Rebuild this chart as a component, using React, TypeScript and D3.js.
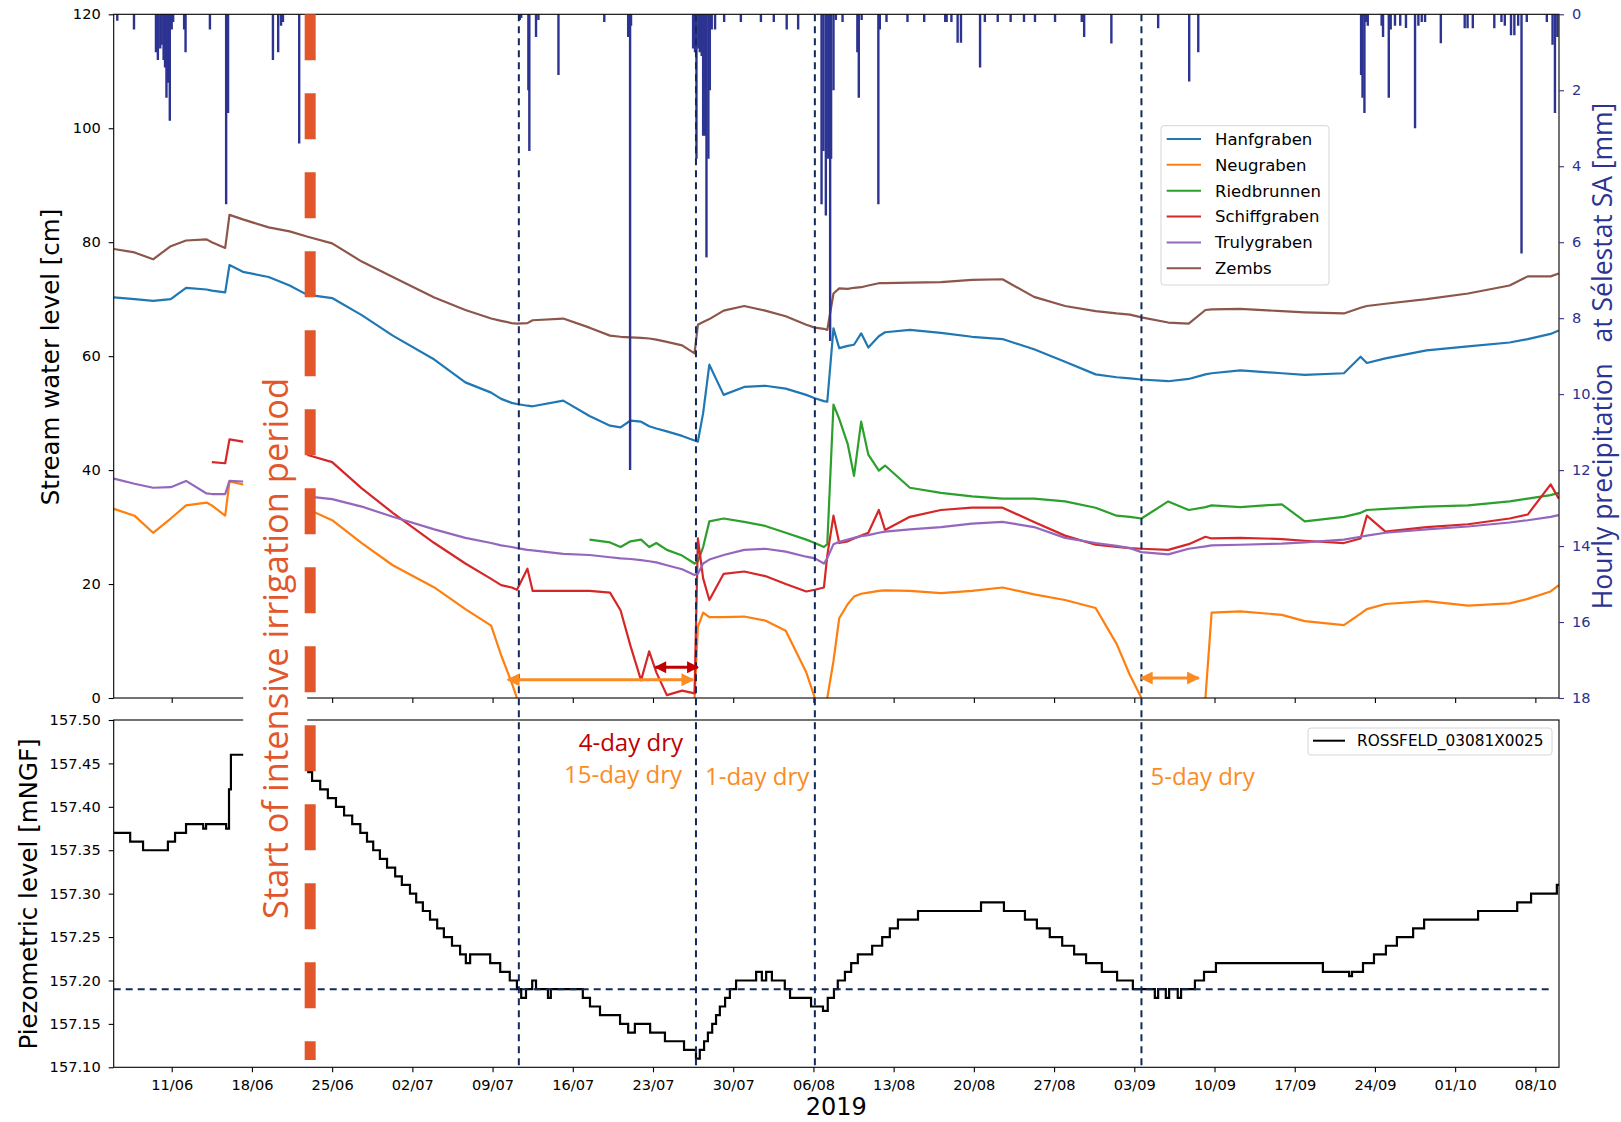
import React, { useEffect, useRef } from 'react';
import * as d3 from 'd3';

// stream gauge readings (2019, "MM-DD HH"), one column per station
const streamTimes = [
  '06-05 23', '06-07 18', '06-09 09', '06-10 22', '06-12 06', '06-14 01', '06-14 12', '06-15 16', '06-16 01', '06-17 05',
  '06-19 11', '06-21 07', '06-22 19', '06-25 00', '06-27 14', '06-30 07', '07-03 22', '07-06 15', '07-08 21', '07-09 18',
  '07-10 16', '07-11 03', '07-12 01', '07-12 12', '07-15 04', '07-17 11', '07-19 06', '07-20 04', '07-21 01', '07-21 23',
  '07-22 16', '07-23 07', '07-24 05', '07-25 13', '07-26 15', '07-26 22', '07-27 09', '07-27 22', '07-29 04', '07-30 23',
  '08-01 19', '08-03 14', '08-05 09', '08-06 03', '08-06 22', '08-07 05', '08-07 18', '08-08 06', '08-09 00', '08-09 13',
  '08-10 04', '08-10 19', '08-11 17', '08-12 06', '08-14 10', '08-17 03', '08-19 20', '08-22 12', '08-25 06', '08-27 23',
  '08-30 15', '09-01 11', '09-02 15', '09-03 15', '09-05 23', '09-07 18', '09-09 05', '09-09 18', '09-12 06', '09-15 21',
  '09-17 21', '09-21 07', '09-22 18', '09-23 07', '09-24 22', '09-28 12', '10-02 03', '10-05 18', '10-07 08', '10-09 08', '10-10 01',
];

const hanfgraben = [
  70.3, 70.0, 69.7, 70.0, 72.0, 71.7, 71.5, 71.2, 76.0, 74.8,
  73.9, 72.4, 70.8, 70.2, 67.2, 63.6, 59.4, 55.4, 53.6, 52.5,
  51.8, 51.6, 51.3, 51.2, 52.2, 49.5, 47.8, 47.5, 48.7, 48.5,
  47.7, 47.3, 46.8, 46.0, 45.2, 45.0, 50.0, 58.5, 53.2, 54.6,
  54.8, 54.3, 53.2, 52.6, 52.1, 52.0, 64.9, 61.4, 61.8, 62.0,
  64.0, 61.5, 63.5, 64.2, 64.6, 64.1, 63.4, 63.0, 61.2, 59.0,
  56.8, 56.3, 56.1, 55.9, 55.6, 56.0, 56.8, 57.0, 57.5, 57.0,
  56.7, 57.0, 59.9, 58.8, 59.6, 61.0, 61.7, 62.4, 63.0, 63.9, 64.5,
];

const neugraben = [
  33.2, 32.0, 29.0, 31.5, 33.8, 34.3, 33.8, 32.0, 38.0, 37.5,
  36.0, 34.5, 33.2, 31.2, 27.2, 23.3, 19.4, 15.6, 12.7, 7.5,
  2.7, 0, null, null, null, null, null, null, null, null,
  null, null, null, null, 0, 12.5, 15.0, 14.2, 14.2, 14.3,
  13.6, 11.8, 4.5, 0, null, 0, 6.5, 14.0, 16.5, 17.8,
  18.3, 18.5, 18.8, 18.9, 18.8, 18.4, 18.8, 19.4, 18.2, 17.2,
  15.8, 9.5, 4.0, 0, null, null, 0, 15.0, 15.2, 14.6,
  13.5, 12.8, 14.8, 15.6, 16.5, 17.0, 16.2, 16.6, 17.4, 18.7, 19.8,
];

const riedbrunnen = [
  null, null, null, null, null, null, null, null, null, null,
  null, null, null, null, null, null, null, null, null, null,
  null, null, null, null, null, 27.8, 27.3, 26.5, 27.5, 27.8,
  26.5, 27.2, 26.0, 25.0, 23.6, 24.0, 26.5, 31.0, 31.5, 30.9,
  30.2, 29.0, 27.8, 27.2, 26.5, 27.0, 51.5, 49.0, 44.5, 39.0,
  48.5, 42.7, 39.9, 40.8, 36.9, 36.0, 35.4, 35.0, 35.0, 34.5,
  33.4, 32.0, 31.8, 31.5, 34.5, 33.0, 33.5, 33.8, 33.5, 34.0,
  31.0, 31.8, 32.5, 33.0, 33.2, 33.6, 33.8, 34.5, 35.0, 35.6, 36.0,
];

const schiffgraben = [
  null, null, null, null, null, null, 41.4, 41.2, 45.4, 45.0,
  44.0, 43.4, 42.7, 41.4, 36.8, 32.5, 27.2, 23.6, 20.9, 19.8,
  19.4, 19.0, 22.7, 18.8, 18.8, 18.8, 18.5, 15.4, 9.1, 3.1,
  8.2, 4.5, 0.5, 1.3, 0.8, 28.0, 21.0, 17.2, 21.8, 22.2,
  21.4, 20.0, 18.7, 19.0, 19.4, 25.0, 32.0, 27.2, 27.5, 28.0,
  28.5, 29.0, 33.0, 29.5, 31.8, 33.0, 33.4, 33.4, 30.9, 28.5,
  26.9, 26.5, 26.3, 26.2, 26.0, 27.0, 28.3, 28.0, 28.1, 27.9,
  27.6, 27.2, 28.0, 32.0, 29.2, 30.0, 30.5, 31.5, 32.2, 37.5, 35.0,
];

const trulygraben = [
  38.5, 37.6, 36.9, 37.0, 38.1, 35.9, 35.8, 35.8, 38.1, 38.0,
  37.0, 36.2, 35.4, 34.9, 33.6, 31.8, 29.6, 28.1, 27.2, 26.8,
  26.5, 26.3, 26.0, 25.9, 25.3, 25.1, 24.7, 24.5, 24.4, 24.2,
  24.0, 23.8, 23.3, 22.6, 21.6, 21.8, 23.6, 24.3, 25.1, 26.0,
  26.2, 25.7, 24.8, 24.5, 23.6, 24.5, 27.0, 27.4, 27.8, 28.1,
  28.4, 28.6, 29.0, 29.2, 29.6, 30.0, 30.6, 30.9, 30.0, 28.1,
  27.2, 26.7, 26.3, 25.6, 25.2, 26.2, 26.6, 26.8, 26.9, 27.1,
  27.3, 27.8, 28.3, 28.5, 29.0, 29.6, 30.1, 30.8, 31.2, 31.8, 32.1,
];

const zembs = [
  78.8, 78.2, 77.0, 79.3, 80.3, 80.5, 80.0, 79.0, 84.8, 84.0,
  82.6, 81.9, 81.0, 79.8, 76.6, 73.9, 70.3, 68.1, 66.6, 66.2,
  65.8, 65.7, 65.8, 66.3, 66.6, 65.0, 63.6, 63.4, 63.3, 63.2,
  63.1, 62.9, 62.5, 61.9, 60.5, 65.5, 66.0, 66.5, 68.0, 68.8,
  68.0, 67.0, 65.5, 65.0, 64.8, 64.6, 71.0, 71.9, 71.8, 72.0,
  72.1, 72.4, 72.8, 72.8, 72.9, 73.0, 73.4, 73.5, 70.4, 68.8,
  67.9, 67.5, 67.3, 66.8, 65.9, 65.7, 68.1, 68.2, 68.3, 67.9,
  67.7, 67.5, 68.5, 68.8, 69.2, 70.0, 71.0, 72.4, 74.0, 74.0, 74.5,
];

// piezometer ROSSFELD_03081X0025: level changes (step after)
const piezoTimes = [
  '06-05 22', '06-07 09', '06-08 12', '06-10 16', '06-11 07', '06-12 06', '06-13 18', '06-14 00', '06-15 18', '06-16 00',
  '06-16 04', '06-22 05', '06-22 17', '06-23 06', '06-23 23', '06-24 15', '06-25 08', '06-26 01', '06-26 18', '06-27 11',
  '06-28 01', '06-28 14', '06-29 04', '06-29 19', '06-30 12', '07-01 02', '07-01 19', '07-02 08', '07-02 22', '07-03 13',
  '07-04 04', '07-04 18', '07-05 11', '07-06 04', '07-06 16', '07-07 01', '07-08 19', '07-09 16', '07-10 12', '07-11 03',
  '07-11 12', '07-11 22', '07-12 11', '07-12 19', '07-13 20', '07-14 02', '07-16 21', '07-17 12', '07-18 09', '07-20 03',
  '07-20 20', '07-21 10', '07-22 18', '07-24 01', '07-25 17', '07-26 18', '07-27 02', '07-27 11', '07-27 19', '07-28 04',
  '07-28 12', '07-28 20', '07-29 07', '07-29 17', '07-30 06', '08-01 00', '08-01 12', '08-01 21', '08-02 09', '08-03 12',
  '08-03 23', '08-05 19', '08-06 20', '08-07 06', '08-07 19', '08-08 03', '08-08 18', '08-09 07', '08-09 21', '08-11 03',
  '08-12 00', '08-12 16', '08-13 09', '08-15 03', '08-20 15', '08-22 15', '08-24 11', '08-25 12', '08-26 15', '08-27 17',
  '08-28 18', '08-29 19', '08-31 04', '09-01 12', '09-02 21', '09-04 19', '09-05 02', '09-05 18', '09-06 01', '09-06 19',
  '09-07 02', '09-08 07', '09-09 02', '09-10 03', '09-19 11', '09-21 18', '09-22 00', '09-22 23', '09-23 22', '09-24 23',
  '09-25 22', '09-27 08', '09-28 07', '10-03 00', '10-06 10', '10-07 15', '10-09 21', '10-10 02',
];
const piezoLevels = [
  157.37, 157.36, 157.35, 157.36, 157.37, 157.38, 157.375, 157.38, 157.375, 157.42,
  157.46, 157.45, 157.44, 157.43, 157.42, 157.41, 157.40, 157.39, 157.38, 157.37,
  157.36, 157.35, 157.34, 157.33, 157.32, 157.31, 157.30, 157.29, 157.28, 157.27,
  157.26, 157.25, 157.24, 157.23, 157.22, 157.23, 157.22, 157.21, 157.20, 157.19,
  157.18, 157.19, 157.20, 157.19, 157.18, 157.19, 157.18, 157.17, 157.16, 157.15,
  157.14, 157.15, 157.14, 157.13, 157.12, 157.11, 157.12, 157.13, 157.14, 157.15,
  157.16, 157.17, 157.18, 157.19, 157.20, 157.21, 157.20, 157.21, 157.20, 157.19,
  157.18, 157.17, 157.165, 157.18, 157.19, 157.20, 157.21, 157.22, 157.23, 157.24,
  157.25, 157.26, 157.27, 157.28, 157.29, 157.28, 157.27, 157.26, 157.25, 157.24,
  157.23, 157.22, 157.21, 157.20, 157.19, 157.18, 157.19, 157.18, 157.19, 157.18,
  157.19, 157.20, 157.21, 157.22, 157.21, 157.205, 157.21, 157.22, 157.23, 157.24,
  157.25, 157.26, 157.27, 157.28, 157.29, 157.30, 157.31, 157.31,
];

// hourly precipitation at Sélestat SA (non-zero hours)
const rainTimes = [
  '06-06 06', '06-07 17', '06-09 15', '06-09 19', '06-10 00', '06-10 03', '06-10 07', '06-10 10', '06-10 13', '06-10 16',
  '06-10 20', '06-11 00', '06-11 03', '06-12 02', '06-12 05', '06-14 08', '06-15 18', '06-15 22', '06-19 20', '06-20 07',
  '06-20 13', '06-20 17', '06-22 03', '07-11 09', '07-11 12', '07-12 03', '07-12 05', '07-12 19', '07-13 00', '07-14 18',
  '07-18 18', '07-20 20', '07-21 00', '07-21 02', '07-26 12', '07-26 16', '07-26 19', '07-26 23', '07-27 02', '07-27 06',
  '07-27 09', '07-27 13', '07-27 16', '07-27 20', '07-27 23', '07-28 03', '07-28 10', '07-29 05', '07-30 16', '08-01 10',
  '08-02 13', '08-03 16', '08-04 16', '08-06 17', '08-06 21', '08-07 02', '08-07 07', '08-07 11', '08-07 13', '08-07 18',
  '08-07 23', '08-08 13', '08-09 20', '08-09 23', '08-10 05', '08-11 16', '08-11 19', '08-12 09', '08-14 05', '08-15 16',
  '08-17 12', '08-17 15', '08-18 01', '08-18 14', '08-18 21', '08-20 13', '08-20 23', '08-22 02', '08-23 05', '08-24 09',
  '08-25 08', '08-27 02', '08-29 10', '08-29 15', '09-01 00', '09-05 02', '09-07 19', '09-08 14', '09-22 19', '09-22 22',
  '09-23 02', '09-23 05', '09-23 09', '09-24 14', '09-24 17', '09-25 05', '09-25 09', '09-25 18', '09-26 05', '09-26 17',
  '09-27 12', '09-27 19', '09-28 02', '09-28 09', '09-29 18', '10-01 20', '10-02 02', '10-02 13', '10-04 10', '10-05 01',
  '10-05 08', '10-05 21', '10-06 04', '10-06 12', '10-06 19', '10-07 06', '10-09 00', '10-09 12', '10-09 17', '10-09 22',
];
const rainMm = [
  0.17, 0.4, 1.0, 1.2, 0.9, 0.8, 1.2, 1.4, 2.2, 1.8,
  2.8, 0.4, 0.2, 0.4, 1.0, 0.4, 5.0, 2.6, 1.2, 1.0,
  0.3, 0.2, 3.4, 0.15, 0.1, 2.0, 3.6, 0.6, 0.15, 1.6,
  0.2, 0.6, 12.0, 0.3, 0.9, 1.0, 3.8, 0.9, 1.0, 1.1,
  3.2, 3.2, 6.4, 3.8, 2.0, 0.4, 0.4, 0.2, 0.2, 0.2,
  0.2, 0.4, 0.4, 5.0, 3.6, 5.3, 3.8, 8.6, 3.8, 2.0,
  0.15, 0.2, 1.0, 2.2, 0.15, 5.0, 0.4, 0.2, 0.2, 0.2,
  0.2, 0.2, 0.2, 0.75, 0.75, 1.4, 0.2, 0.2, 0.2, 0.2,
  0.2, 0.2, 0.2, 0.6, 0.77, 0.37, 1.77, 1.0, 1.6, 2.2,
  2.6, 0.2, 0.3, 0.3, 0.6, 2.2, 0.4, 0.3, 0.3, 0.36,
  3.0, 0.3, 0.2, 0.2, 0.76, 0.37, 0.37, 0.37, 0.37, 0.2,
  0.3, 0.55, 0.55, 0.3, 6.3, 0.2, 0.2, 0.8, 2.6, 0.6,
];

// events marked on the figure
const dryMarks = ['07-11 07', '07-26 18', '08-06 03', '09-03 15'];
const irrigationStart = '06-23 02';
const piezoThreshold = 157.19;
const thresholdEnd = '10-09 04';
const dryArrows = [
  { from: '07-10 08', to: '07-26 12', level: 3.2, kind: 'orange' },
  { from: '07-23 05', to: '07-26 22', level: 5.4, kind: 'red' },
  { from: '09-03 14', to: '09-08 15', level: 3.5, kind: 'orange' },
];

const streams = [
  { name: 'Hanfgraben', values: hanfgraben, color: '#1f77b4' },
  { name: 'Neugraben', values: neugraben, color: '#ff7f0e' },
  { name: 'Riedbrunnen', values: riedbrunnen, color: '#2ca02c' },
  { name: 'Schiffgraben', values: schiffgraben, color: '#d62728' },
  { name: 'Trulygraben', values: trulygraben, color: '#9467bd' },
  { name: 'Zembs', values: zembs, color: '#8c564b' },
];

const parseStamp = d3.timeParse('%Y-%m-%d %H');
const toDate = (s: string) => parseStamp('2019-' + s) as Date;

const App = () => {
  const svgRef = useRef<SVGSVGElement>(null);

  useEffect(() => {
    const svg = d3.select(svgRef.current);
    svg.selectAll('*').remove();

    const mpl = '"DejaVu Sans", sans-serif';
    const office = '"Open Sans", sans-serif';
    const rainBlue = '#2c3391';
    const navy = '#12295a';
    const orange = '#fb8b24';
    const darkRed = '#c00000';
    const irrigationColor = '#e1562b';

    const left = 113.7, right = 1559;
    const top1 = 14.3, bottom1 = 698;
    const top2 = 720, bottom2 = 1067.3;

    const x = d3.scaleTime()
      .domain([new Date(2019, 5, 5, 22, 30), new Date(2019, 9, 10, 1, 30)])
      .range([left, right]);
    const yLevel = d3.scaleLinear().domain([0, 120]).range([bottom1, top1]);
    const yRain = d3.scaleLinear().domain([0, 18]).range([top1, bottom1]);
    const yPiezo = d3.scaleLinear().domain([157.10, 157.50]).range([bottom2, top2]);

    const defs = svg.append('defs');
    defs.append('clipPath').attr('id', 'clipTop')
      .append('rect').attr('x', left).attr('y', top1).attr('width', right - left).attr('height', bottom1 - top1);
    defs.append('clipPath').attr('id', 'clipBottom')
      .append('rect').attr('x', left).attr('y', top2).attr('width', right - left).attr('height', bottom2 - top2);
    [['headOrange', orange, 18, 13], ['headRed', darkRed, 15, 12]].forEach(([id, c, w, h]) => {
      defs.append('marker')
        .attr('id', id as string)
        .attr('viewBox', '0 0 10 10')
        .attr('refX', 9).attr('refY', 5)
        .attr('markerWidth', w as number).attr('markerHeight', h as number)
        .attr('markerUnits', 'userSpaceOnUse')
        .attr('orient', 'auto-start-reverse')
        .append('path').attr('d', 'M0,0 L10,5 L0,10 Z').attr('fill', c as string);
    });

    const weekTicks = d3.timeTuesday.range(x.domain()[0], x.domain()[1]);

    const styleAxis = (g: any, color = '#000') => {
      g.select('.domain').remove();
      g.selectAll('line').attr('stroke', color).attr('stroke-width', 1.1);
      g.selectAll('text').attr('fill', color).attr('font-family', mpl).attr('font-size', 14.6);
    };

    // ---- top panel: stream levels + precipitation
    const times = streamTimes.map(toDate);
    const gTop = svg.append('g').attr('clip-path', 'url(#clipTop)');

    streams.forEach(s => {
      const line = d3.line<number | null>()
        .defined(v => v != null)
        .x((_, i) => x(times[i]))
        .y(v => yLevel(v as number));
      gTop.append('path')
        .attr('d', line(s.values))
        .attr('fill', 'none')
        .attr('stroke', s.color)
        .attr('stroke-width', 2.2)
        .attr('stroke-linejoin', 'round');
    });

    gTop.selectAll('line.rain')
      .data(rainTimes.map((t, i) => ({ t: toDate(t), v: rainMm[i] })))
      .join('line')
      .attr('class', 'rain')
      .attr('x1', d => x(d.t)).attr('x2', d => x(d.t))
      .attr('y1', yRain(0)).attr('y2', d => yRain(d.v))
      .attr('stroke', rainBlue)
      .attr('stroke-width', 2.4);

    svg.append('rect')
      .attr('x', left).attr('y', top1).attr('width', right - left).attr('height', bottom1 - top1)
      .attr('fill', 'none').attr('stroke', '#000').attr('stroke-width', 1.1);

    svg.append('g').attr('transform', `translate(0,${bottom1})`)
      .call(d3.axisBottom(x).tickValues(weekTicks).tickFormat(() => '').tickSize(5))
      .call(styleAxis);
    svg.append('g').attr('transform', `translate(${left},0)`)
      .call(d3.axisLeft(yLevel).tickValues(d3.range(0, 121, 20)).tickSize(5).tickPadding(8))
      .call(styleAxis);
    svg.append('g').attr('transform', `translate(${right},0)`)
      .call(d3.axisRight(yRain).tickValues(d3.range(0, 19, 2)).tickSize(5).tickPadding(8))
      .call((g: any) => styleAxis(g, rainBlue));

    // ---- bottom panel: piezometric level
    const gBottom = svg.append('g').attr('clip-path', 'url(#clipBottom)');
    const piezoLine = d3.line<number>()
      .x((_, i) => x(toDate(piezoTimes[i])))
      .y(v => yPiezo(v))
      .curve(d3.curveStepAfter);
    gBottom.append('path')
      .attr('d', piezoLine(piezoLevels))
      .attr('fill', 'none')
      .attr('stroke', '#000')
      .attr('stroke-width', 2.2);

    svg.append('line')
      .attr('x1', left).attr('x2', x(toDate(thresholdEnd)))
      .attr('y1', yPiezo(piezoThreshold)).attr('y2', yPiezo(piezoThreshold))
      .attr('stroke', navy).attr('stroke-width', 2).attr('stroke-dasharray', '7 5');

    svg.append('rect')
      .attr('x', left).attr('y', top2).attr('width', right - left).attr('height', bottom2 - top2)
      .attr('fill', 'none').attr('stroke', '#000').attr('stroke-width', 1.1);

    svg.append('g').attr('transform', `translate(0,${bottom2})`)
      .call(d3.axisBottom(x).tickValues(weekTicks).tickFormat(d3.timeFormat('%d/%m') as any).tickSize(5).tickPadding(7))
      .call(styleAxis);
    svg.append('g').attr('transform', `translate(${left},0)`)
      .call(d3.axisLeft(yPiezo).tickValues(d3.range(0, 9).map(i => 157.10 + i * 0.05)).tickFormat(d3.format('.2f')).tickSize(5).tickPadding(8))
      .call(styleAxis);

    // ---- dry-period markers
    svg.selectAll('line.dry')
      .data(dryMarks.map(toDate))
      .join('line')
      .attr('class', 'dry')
      .attr('x1', d => x(d)).attr('x2', d => x(d))
      .attr('y1', top1).attr('y2', bottom2 - 2)
      .attr('stroke', navy).attr('stroke-width', 2).attr('stroke-dasharray', '7 5');

    dryArrows.forEach(a => {
      const head = a.kind === 'red' ? 'headRed' : 'headOrange';
      svg.append('line')
        .attr('x1', x(toDate(a.from))).attr('x2', x(toDate(a.to)))
        .attr('y1', yLevel(a.level)).attr('y2', yLevel(a.level))
        .attr('stroke', a.kind === 'red' ? darkRed : orange)
        .attr('stroke-width', 3)
        .attr('marker-start', `url(#${head})`)
        .attr('marker-end', `url(#${head})`);
    });

    const mark = dryMarks.map(s => x(toDate(s)));
    const note = (tx: number, ty: number, anchor: string, color: string, label: string) =>
      svg.append('text')
        .attr('x', tx).attr('y', ty)
        .attr('text-anchor', anchor)
        .attr('fill', color)
        .attr('font-family', office)
        .attr('font-size', 24)
        .text(label);
    note(mark[1] - 13, 751, 'end', darkRed, '4-day dry');
    note(mark[1] - 14, 783, 'end', orange, '15-day dry');
    note(mark[1] + 9, 785, 'start', orange, '1-day dry');
    note(mark[3] + 9, 785, 'start', orange, '5-day dry');

    // ---- start of irrigation
    const xi = x(toDate(irrigationStart));
    svg.append('rect')
      .attr('x', xi - 67).attr('y', 372).attr('width', 64).attr('height', 553)
      .attr('fill', '#fff');
    svg.append('text')
      .attr('transform', `translate(${xi - 22},648.5) rotate(-90)`)
      .attr('text-anchor', 'middle')
      .attr('fill', irrigationColor)
      .attr('font-family', office)
      .attr('font-size', 34.5)
      .text('Start of intensive irrigation period');
    svg.append('line')
      .attr('x1', xi).attr('x2', xi)
      .attr('y1', top1).attr('y2', 1060)
      .attr('stroke', irrigationColor).attr('stroke-width', 11)
      .attr('stroke-dasharray', '46 33');

    // ---- legends
    const leg = svg.append('g').attr('transform', 'translate(1161,125.7)');
    leg.append('rect').attr('width', 168).attr('height', 159.3).attr('rx', 3)
      .attr('fill', '#fff').attr('fill-opacity', 0.8).attr('stroke', '#d6d6d6');
    streams.forEach((s, i) => {
      const cy = 13.3 + i * 25.85;
      leg.append('line').attr('x1', 5.7).attr('x2', 40).attr('y1', cy).attr('y2', cy)
        .attr('stroke', s.color).attr('stroke-width', 2);
      leg.append('text').attr('x', 54).attr('y', cy).attr('dy', '0.36em')
        .attr('font-family', mpl).attr('font-size', 16.5).attr('fill', '#000').text(s.name);
    });

    const leg2 = svg.append('g').attr('transform', 'translate(1308,728)');
    leg2.append('rect').attr('width', 244).attr('height', 27).attr('rx', 3)
      .attr('fill', '#fff').attr('fill-opacity', 0.8).attr('stroke', '#d6d6d6');
    leg2.append('line').attr('x1', 5).attr('x2', 37).attr('y1', 12.7).attr('y2', 12.7)
      .attr('stroke', '#000').attr('stroke-width', 2);
    leg2.append('text').attr('x', 49).attr('y', 12.7).attr('dy', '0.36em')
      .attr('font-family', mpl).attr('font-size', 15.3).attr('fill', '#000').text('ROSSFELD_03081X0025');

    // ---- axis titles
    svg.append('text')
      .attr('transform', 'translate(59,357) rotate(-90)')
      .attr('text-anchor', 'middle').attr('font-family', mpl).attr('font-size', 24.5)
      .text('Stream water level [cm]');
    svg.append('text')
      .attr('transform', 'translate(36.5,894) rotate(-90)')
      .attr('text-anchor', 'middle').attr('font-family', mpl).attr('font-size', 24.5)
      .text('Piezometric level [mNGF]');
    svg.append('text')
      .attr('transform', 'translate(1612,356) rotate(-90)')
      .attr('text-anchor', 'middle').attr('font-family', office).attr('font-size', 26.5)
      .attr('fill', rainBlue).style('white-space', 'pre')
      .text('Hourly precipitation   at Sélestat SA [mm]');
    svg.append('text')
      .attr('x', (left + right) / 2).attr('y', 1115)
      .attr('text-anchor', 'middle').attr('font-family', mpl).attr('font-size', 24)
      .text('2019');
  }, []);

  return (
    <svg
      ref={svgRef}
      width={1621}
      height={1122}
      style={{ position: 'absolute', left: 0, top: 0, background: '#fff' }}
    />
  );
};

export default App;
